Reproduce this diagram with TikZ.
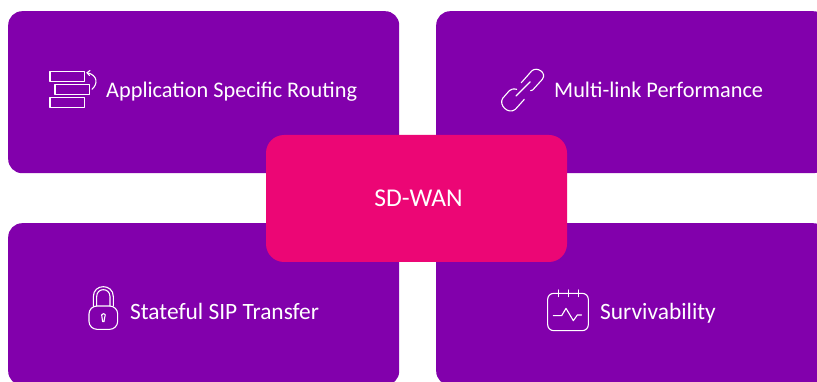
\documentclass[tikz,border=0pt]{standalone}
\usepackage{fontspec}
\setmainfont[Ligatures={Common,Rare}]{Carlito}
\definecolor{panelpurple}{HTML}{8200AC}
\definecolor{hubpink}{HTML}{EC0675}
\tikzset{
  panel/.style={fill=panelpurple,rounded corners=14pt,minimum width=391pt,minimum height=162pt,inner sep=0pt,anchor=north west},
  hub/.style={fill=hubpink,rounded corners=18pt,minimum width=301pt,minimum height=127pt,inner sep=0pt,text=white,font=\fontsize{25.6pt}{30pt}\selectfont},
  caption/.style={text=white,anchor=base west,inner sep=0pt,font=\fontsize{23.4pt}{28pt}\selectfont},
  captiontop/.style={caption,font=\fontsize{22.3pt}{28pt}\selectfont},
  icon/.style={draw=white,line width=1.1pt,line join=round,line cap=round}
}
\begin{document}
\begin{tikzpicture}[x=1pt,y=-1pt]
  \useasboundingbox (0,0) rectangle (817,382);
  \clip (0,0) rectangle (817,382);
  \fill[white] (0,0) rectangle (817,382);
  \node[panel] (routing) at (8,11) {};
  \node[panel] (multilink) at (436,11) {};
  \node[panel] (sip) at (8,223) {};
  \node[panel] (survive) at (436,223) {};
  \node[hub] (sdwan) at (416.5,198.5) {\hspace*{4pt}SD-WAN};
  \node[captiontop] (routingtext) at (106,97.5) {Application Specific Routing};
  \node[captiontop] (multilinktext) at (554,97.5) {Multi-link Performance};
  \node[caption] (siptext) at (130,319.5) {Stateful SIP Transfer};
  \node[caption] (survivetext) at (600,319.5) {Survivability};
  % stacked bars
  \draw[icon] (50,71.3) rectangle (84.3,81.3);
  \draw[icon] (55,84.3) rectangle (89.3,94.3);
  \draw[icon] (50,97.3) rectangle (84.3,107.3);
  \draw[icon] (92,89.3) .. controls (98,84) and (98,75) .. (87,72.7);
  \draw[icon] (90,70.5) -- (87,72.7) -- (89.5,75.5);
  % chain link
  \begin{scope}[shift={(490,60)},scale=1/3]
    \draw[icon] (94,68) -- (125,33) .. controls (140,18) and (172,38) .. (157,58) -- (128,90) .. controls (126,92) and (124,92) .. (122,92);
    \draw[icon] (80,88) .. controls (70,85) and (62,88) .. (58,92) -- (38,115) .. controls (25,135) and (55,165) .. (76,148) -- (103,118);
    \draw[icon] (78,108) -- (121,65);
  \end{scope}
  % padlock
  \begin{scope}[shift={(80,280)},scale=1/3]
    \draw[icon,rounded corners=8pt] (27,78) rectangle (113,148);
    \draw[icon] (40,78) -- (40,50) .. controls (40,10) and (100,10) .. (100,50) -- (100,78);
    \draw[icon] (50,78) -- (50,50) .. controls (50,22) and (90,22) .. (90,50) -- (90,78);
    \draw[icon] (66,112) .. controls (58,100) and (82,95) .. (74,112) -- (72,125) -- (68,125) -- cycle;
  \end{scope}
  % calendar
  \begin{scope}[shift={(540,280)},scale=1/3]
    \draw[icon,rounded corners=6pt] (23,40) rectangle (145,152);
    \foreach \tickx in {55,85,115}
      \draw[icon] (\tickx,30) -- (\tickx,50);
    \draw[icon] (40,107) -- (65,107) -- (78,85) -- (100,122) -- (112,105) -- (125,105);
  \end{scope}
\end{tikzpicture}
\end{document}
